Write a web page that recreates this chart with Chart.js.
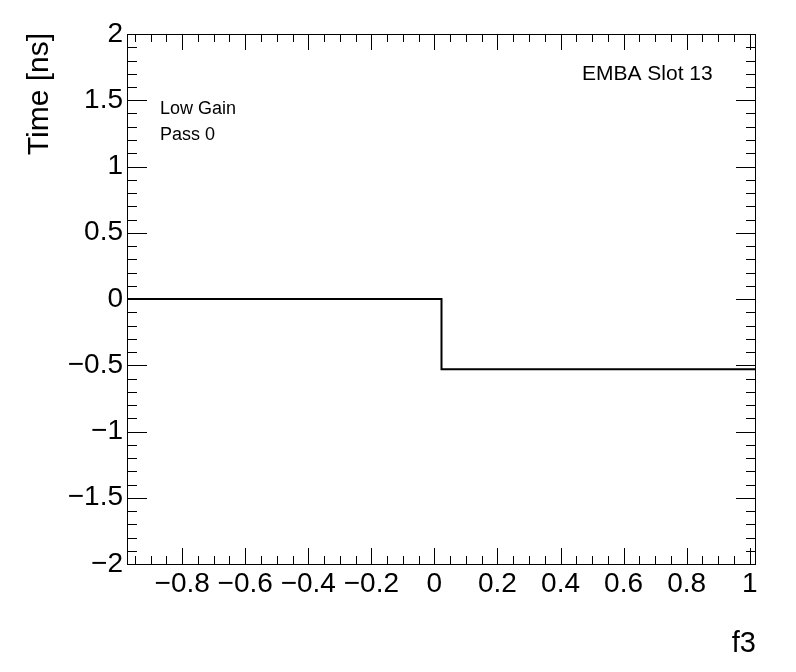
<!DOCTYPE html>
<html>
<head>
<meta charset="utf-8">
<script src="https://cdn.jsdelivr.net/npm/chart.js@4"></script>
<style>
  html, body { margin: 0; padding: 0; background: #fff; }
  #wrap { width: 796px; height: 672px; }
</style>
</head>
<body>
<div id="wrap"><canvas id="grafico" width="796" height="672"></canvas></div>
<script>
// histogram: 2 bins
const binEdges = [-0.975, 0.0225, 1.02]
const binValues = [0, -0.53]
const xTicks = [-0.8, -0.6, -0.4, -0.2, 0, 0.2, 0.4, 0.6, 0.8, 1]
const yTicks = [-2, -1.5, -1, -0.5, 0, 0.5, 1, 1.5, 2]
const labels = ["Low Gain", "Pass 0"]
const title = "EMBA Slot 13"

const FONT = "'Liberation Sans', Arial, Helvetica, sans-serif"

const points = binValues.map((v, i) => ({ x: binEdges[i], y: v }))
points.push({ x: binEdges[binEdges.length - 1], y: binValues[binValues.length - 1] })

const fmt = (v) => {
  const r = Math.round(v * 10) / 10
  if (r === 0) return "0"
  const s = String(Math.abs(r))
  return r < 0 ? "\u2212" + s : s
}

const rootFrame = {
  id: "rootFrame",
  afterDraw(chart) {
    const ctx = chart.ctx
    const a = chart.chartArea
    const xs = chart.scales.x
    const ys = chart.scales.y
    ctx.save()
    ctx.strokeStyle = "#000"
    ctx.lineWidth = 1
    ctx.strokeRect(a.left + 0.5, a.top + 0.5, a.right - a.left - 1, a.bottom - a.top)

    ctx.beginPath()
    // x ticks (major every 0.2, minor every 0.05)
    for (let i = -20; i <= 21; i++) {
      const v = i * 0.05
      if (v < xs.min || v > xs.max) continue
      const px = Math.round(xs.getPixelForValue(v)) + 0.5
      const major = i % 4 === 0
      const len = major ? 16 : 8
      ctx.moveTo(px, a.bottom); ctx.lineTo(px, a.bottom - len)
      ctx.moveTo(px, a.top); ctx.lineTo(px, a.top + len)
    }
    // y ticks (major every 0.5, minor every 0.1)
    for (let i = -20; i <= 20; i++) {
      const v = i * 0.1
      const py = Math.round(ys.getPixelForValue(v)) + 0.5
      const major = i % 5 === 0
      const len = major ? 20 : 10
      ctx.moveTo(a.left, py); ctx.lineTo(a.left + len, py)
      ctx.moveTo(a.right, py); ctx.lineTo(a.right - len, py)
    }
    ctx.stroke()

    ctx.fillStyle = "#000"
    ctx.textBaseline = "alphabetic"
    ctx.font = "18px " + FONT
    ctx.textAlign = "left"
    ctx.fillText(labels[0], 160, 114)
    ctx.fillText(labels[1], 160, 140)
    ctx.font = "21px " + FONT
    ctx.fillText(title, 582, 80)

    ctx.font = "29px " + FONT
    ctx.textAlign = "right"
    ctx.fillText("f3", 756, 652)

    ctx.font = "30px " + FONT
    ctx.save()
    ctx.translate(48, 33)
    ctx.rotate(-Math.PI / 2)
    ctx.textAlign = "right"
    ctx.fillText("Time [ns]", 0, 0)
    ctx.restore()
    ctx.restore()
  },
}

const graph = document.querySelector("#grafico")
const config = {
  type: "line",
  data: {
    datasets: [
      {
        data: points,
        stepped: "before",
        borderColor: "#000",
        borderWidth: 2,
        pointRadius: 0,
        fill: false,
      },
    ],
  },
  options: {
    responsive: false,
    animation: false,
    layout: { padding: { top: 34, right: 40, left: 0, bottom: 0 } },
    plugins: {
      legend: { display: false },
      tooltip: { enabled: false },
    },
    scales: {
      x: {
        type: "linear",
        min: binEdges[0],
        max: binEdges[binEdges.length - 1],
        afterFit: (s) => { s.height = 108 },
        afterBuildTicks: (s) => { s.ticks = xTicks.map((v) => ({ value: v })) },
        grid: { display: false, drawTicks: false },
        border: { display: false },
        ticks: {
          autoSkip: false,
          maxRotation: 0,
          padding: 3,
          color: "#000",
          font: { family: FONT, size: 28 },
          callback: (v) => fmt(v),
        },
      },
      y: {
        type: "linear",
        min: -2,
        max: 2,
        afterFit: (s) => { s.width = 127 },
        afterBuildTicks: (s) => { s.ticks = yTicks.map((v) => ({ value: v })) },
        grid: { display: false, drawTicks: false },
        border: { display: false },
        ticks: {
          autoSkip: false,
          padding: 4,
          color: "#000",
          font: { family: FONT, size: 28 },
          callback: (v) => fmt(v),
        },
      },
    },
  },
  plugins: [rootFrame],
}

new Chart(graph, config)
</script>
</body>
</html>
